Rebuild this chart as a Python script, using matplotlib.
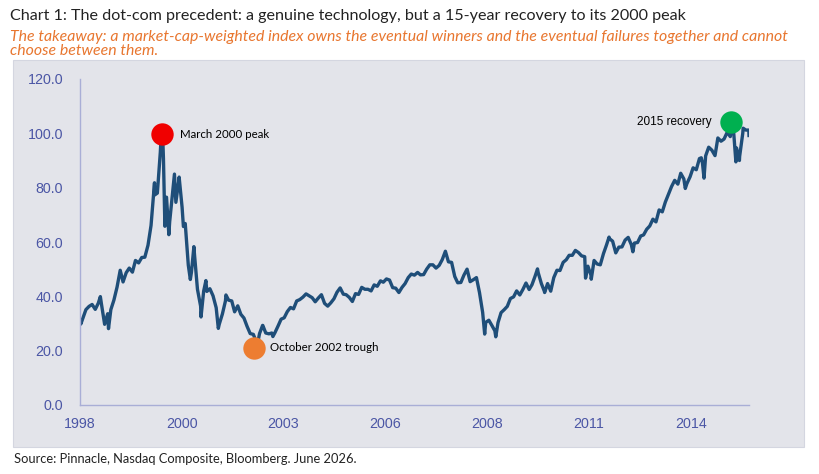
import numpy as np
import pandas as pd
import matplotlib
matplotlib.use('Agg')
import matplotlib.pyplot as plt
from matplotlib.patches import Rectangle

#   Nasdaq Composite, indexed to the March 2000 peak = 100 (month-end values)
v1998 = [32.1, 35.1, 36.3, 37.0, 35.2, 37.5, 37.1, 29.7, 33.6, 35.1, 38.6, 43.4]
v1999 = [49.6, 45.3, 48.7, 50.4, 48.9, 53.2, 52.3, 54.3, 54.4, 58.8, 66.1, 80.6]
v2000 = [78.0, 93.0, 90.6, 76.5, 67.4, 78.6, 74.6, 83.3, 72.8, 66.8, 51.5, 48.9]
v2001 = [54.9, 42.6, 36.4, 41.9, 41.8, 42.8, 40.2, 35.8, 29.7, 33.5, 38.3, 38.6]
v2002 = [38.3, 34.3, 36.5, 33.4, 32.0, 29.0, 26.3, 26.0, 23.2, 26.3, 29.3, 26.5]
v2003 = [26.2, 26.5, 26.6, 29.0, 31.6, 32.1, 34.4, 35.9, 35.4, 38.3, 38.8, 39.7]
v2004 = [40.9, 40.2, 39.5, 38.0, 39.4, 40.6, 37.4, 36.4, 37.6, 39.1, 41.5, 43.1]
v2005 = [40.8, 40.6, 39.6, 38.1, 41.0, 40.7, 43.3, 42.6, 42.6, 42.0, 44.2, 43.7]
v2006 = [45.7, 45.2, 46.4, 46.0, 43.2, 43.0, 41.4, 43.3, 44.7, 46.9, 48.2, 47.8]
v2007 = [48.8, 47.9, 48.0, 50.0, 51.6, 51.6, 50.4, 51.4, 53.5, 56.6, 52.7, 52.5]
v2008 = [47.3, 45.0, 45.1, 47.8, 50.0, 45.4, 46.1, 46.9, 41.4, 34.1, 30.4, 31.2]
v2009 = [29.2, 27.3, 30.3, 34.0, 35.1, 36.3, 39.2, 39.8, 42.0, 40.5, 42.5, 44.9]
v2010 = [42.5, 44.3, 47.5, 48.7, 44.7, 41.8, 44.7, 41.9, 46.9, 49.6, 49.5, 52.5]
v2011 = [53.5, 55.1, 55.1, 56.9, 56.1, 54.9, 54.6, 51.1, 47.8, 53.2, 51.9, 51.6]
v2012 = [55.7, 58.8, 61.2, 60.3, 56.0, 58.1, 58.2, 60.7, 61.7, 59.0, 59.6, 59.8]
v2013 = [62.2, 62.6, 64.7, 65.9, 68.4, 67.4, 71.8, 71.1, 74.7, 77.6, 80.4, 82.7]
v2014 = [81.3, 85.3, 83.2, 81.5, 84.0, 87.3, 86.6, 90.7, 89.0, 91.7, 94.9, 93.8]
v2015 = [91.8, 98.3, 97.1, 97.9, 100.4, 98.8, 101.6, 94.6, 91.5, 100.1, 101.2, 99.2]

#   intra-month highs and lows visible on the line
extra_dates = ['1998-01-02', '1998-01-09', '1998-07-20', '1998-10-08', '2000-01-03',
               '2000-01-04', '2000-03-10', '2000-03-24', '2000-04-14', '2000-05-23',
               '2000-07-17', '2000-09-01', '2000-10-13', '2000-12-20', '2001-01-24',
               '2001-04-04', '2001-05-22', '2001-09-21', '2001-12-05', '2002-10-09',
               '2002-12-02', '2003-03-11', '2007-10-31', '2008-11-20', '2009-03-09',
               '2010-04-23', '2010-07-02', '2011-08-08', '2011-10-03', '2012-03-26',
               '2012-11-15', '2014-04-14', '2014-09-18', '2014-10-15', '2015-07-20',
               '2015-08-24', '2015-09-28', '2015-11-03', '2015-12-29']
extra_vals = [31.0, 29.8, 39.9, 28.1, 81.8,
              77.3, 100.0, 98.3, 65.8, 62.7,
              85.0, 83.9, 65.7, 46.2, 58.3,
              32.4, 45.8, 28.2, 40.5, 22.1,
              29.3, 25.2, 56.6, 26.1, 25.1,
              50.1, 41.4, 46.7, 46.3, 61.8,
              56.4, 79.7, 91.0, 83.5, 103.6,
              89.5, 90.0, 101.9, 101.2]

#   highlighted events
event_labels = ['March 2000 peak', 'October 2002 trough', '2015 recovery']
event_dates = ['2000-03-15', '2002-09-10', '2015-07-08']
event_vals = [99.7, 21.0, 104.0]
event_colours = ['#F00000', '#ED7D31', '#00B050']

tick_labels = ['1998', '2000', '2003', '2006', '2008', '2011', '2014']

#   assemble the series
monthly = np.concatenate([v1998, v1999, v2000, v2001, v2002, v2003, v2004, v2005, v2006,
                          v2007, v2008, v2009, v2010, v2011, v2012, v2013, v2014, v2015])
s = pd.Series(monthly, index=pd.date_range('1998-01-31', periods=len(monthly), freq='ME'))
s = pd.concat([s, pd.Series(extra_vals, index=pd.to_datetime(extra_dates))]).sort_index()

NAVY = '#1F4E79'
AXIS = '#A9AED6'
TICK = '#4B56A5'

fig = plt.figure(figsize=(8.2, 4.74), dpi=100)
fig.patches.append(Rectangle((13/820, 1-447/474), 791/820, 387/474, transform=fig.transFigure,
                             facecolor='#E3E4EA', edgecolor='#D4D6E0', lw=0.8, zorder=-5))

ax = fig.add_axes([80/820, 1-405/474, 669/820, 326/474])
ax.set_facecolor('none')
ax.plot(s.index, s.values, color=NAVY, lw=2.4, solid_joinstyle='round', zorder=2)

#   event markers and labels
for lab, d, v, c in zip(event_labels, event_dates, event_vals, event_colours):
    ax.scatter(pd.Timestamp(d), v, s=260, color=c, zorder=3, linewidths=0)
ax.annotate(event_labels[0], (pd.Timestamp(event_dates[0]), event_vals[0]), xytext=(13, 0),
            textcoords='offset points', va='center', ha='left', fontsize=8.3, family='Lato')
ax.annotate(event_labels[1], (pd.Timestamp(event_dates[1]), event_vals[1]), xytext=(11, 0),
            textcoords='offset points', va='center', ha='left', fontsize=8.3, family='Lato')
ax.annotate(event_labels[2], (pd.Timestamp(event_dates[2]), event_vals[2]), xytext=(-14, 0),
            textcoords='offset points', va='center', ha='right', fontsize=8.5,
            family='Liberation Sans')

ax.set_ylim(0, 120)
ax.set_yticks(np.arange(0, 121, 20))
ax.set_yticklabels(['%.1f' % t for t in np.arange(0, 121, 20)])
ax.set_xlim(pd.Timestamp('1998-01-01'), pd.Timestamp('2015-12-31'))
ax.set_xticks([pd.Timestamp('1998-01-01') + pd.Timedelta(days=1000*k) for k in range(len(tick_labels))])
ax.set_xticklabels(tick_labels)
ax.tick_params(length=0, colors=TICK, labelsize=10.3)
ax.tick_params(axis='y', pad=12)
ax.tick_params(axis='x', pad=9)
for lbl in ax.get_xticklabels() + ax.get_yticklabels():
    lbl.set_family('Liberation Sans')
for sp in ['top', 'right']:
    ax.spines[sp].set_visible(False)
for sp in ['left', 'bottom']:
    ax.spines[sp].set_color(AXIS)
    ax.spines[sp].set_linewidth(1.0)

#   titles and source
fig.text(10/820, 1-16/474, 'Chart 1: The dot-com precedent: a genuine technology, but a 15-year recovery to its 2000 peak',
         fontsize=11.6, family='Lato', color='#222222', va='center', ha='left')
fig.text(10/820, 1-44/474, 'The takeaway: a market-cap-weighted index owns the eventual winners and the eventual failures together and cannot\nchoose between them.',
         fontsize=11.4, family='Lato', style='italic', color='#E8762F', va='center', ha='left',
         linespacing=1.05)
fig.text(14/820, 1-459/474, 'Source: Pinnacle, Nasdaq Composite, Bloomberg. June 2026.',
         fontsize=9.3, family='Lato', color='#222222', va='center', ha='left')

fig.savefig('out.png', dpi=100)
